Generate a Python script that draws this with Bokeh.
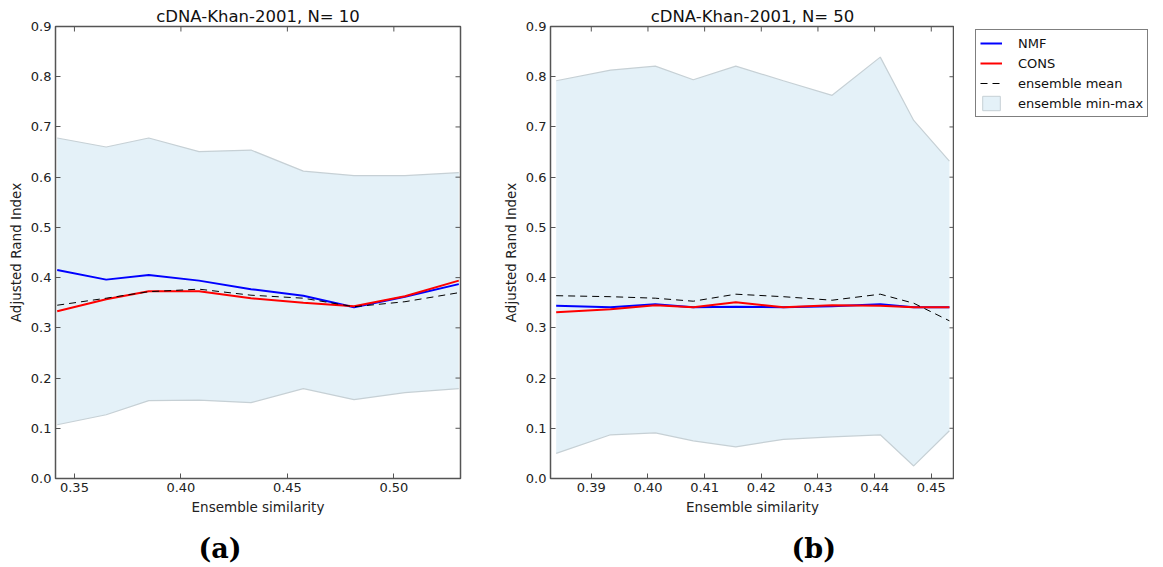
import math
from bokeh.plotting import figure
from bokeh.models import (Range1d, FixedTicker, NumeralTickFormatter,
                          Legend, LegendItem, Title)
from bokeh.layouts import row
from bokeh.embed import file_html
from bokeh.resources import INLINE

# ---------------- data ----------------
# panel (a): cDNA-Khan-2001, N = 10
sim_a = [0.3419, 0.3649, 0.3849, 0.4085, 0.4329, 0.4575, 0.4813, 0.5052, 0.5305]
nmf_a = [0.415, 0.396, 0.405, 0.394, 0.377, 0.364, 0.341, 0.362, 0.387]
cons_a = [0.333, 0.357, 0.373, 0.373, 0.359, 0.350, 0.343, 0.363, 0.394]
mean_a = [0.345, 0.359, 0.372, 0.377, 0.365, 0.359, 0.342, 0.352, 0.370]
max_a = [0.678, 0.660, 0.678, 0.651, 0.654, 0.612, 0.603, 0.603, 0.609]
min_a = [0.107, 0.127, 0.155, 0.156, 0.151, 0.179, 0.157, 0.171, 0.179]
xlim_a = (0.3411, 0.5313)
xticks_a = [0.35, 0.40, 0.45, 0.50]

# panel (b): cDNA-Khan-2001, N = 50
sim_b = [0.3838, 0.3934, 0.4013, 0.4080, 0.4155, 0.4239, 0.4325, 0.4410, 0.4469, 0.4532]
nmf_b = [0.344, 0.341, 0.347, 0.341, 0.342, 0.341, 0.343, 0.347, 0.341, 0.341]
cons_b = [0.331, 0.337, 0.345, 0.341, 0.351, 0.341, 0.345, 0.344, 0.341, 0.341]
mean_b = [0.364, 0.362, 0.359, 0.353, 0.367, 0.362, 0.355, 0.367, 0.349, 0.314]
max_b = [0.792, 0.813, 0.821, 0.794, 0.821, 0.792, 0.763, 0.839, 0.713, 0.632]
min_b = [0.050, 0.087, 0.091, 0.075, 0.063, 0.078, 0.083, 0.087, 0.025, 0.095]
xlim_b = (0.3828, 0.4541)
xticks_b = [0.39, 0.40, 0.41, 0.42, 0.43, 0.44, 0.45]

ylim = (0.0, 0.9)
yticks = [0.0, 0.1, 0.2, 0.3, 0.4, 0.5, 0.6, 0.7, 0.8, 0.9]

legend_labels = ["NMF", "CONS", "ensemble mean", "ensemble min-max"]

FONT = "DejaVu Sans"
FRAME = "#555555"
FILL = "#e4f1f8"
EDGE = "#c6d0d5"
NMF_COLOR = "#0000ff"
CONS_COLOR = "#ff0000"
DASH = "7 5"
TICK_LEN = 5
FRAME_H = 452
TOP = 26
TOTAL_H = 567
NAN = float("nan")


def style_axis(ax, fmt, ticks):
    ax.ticker = FixedTicker(ticks=ticks)
    ax.formatter = NumeralTickFormatter(format=fmt)
    ax.major_tick_in = TICK_LEN
    ax.major_tick_out = 0
    ax.minor_tick_line_color = None
    ax.axis_line_color = None
    ax.major_tick_line_color = FRAME
    ax.major_label_text_font = FONT
    ax.major_label_text_font_size = "13px"
    ax.major_label_text_color = "#222222"
    ax.major_label_standoff = 4
    ax.axis_label_text_font = FONT
    ax.axis_label_text_font_size = "13.5px"
    ax.axis_label_text_font_style = "normal"
    ax.axis_label_text_color = "#222222"
    ax.axis_label_standoff = 4


def make_panel(title, sim, nmf, cons, mean, lo, hi, xlim, xticks, tag, tag_offset,
               fw, border_right):
    p = figure(frame_width=fw, frame_height=FRAME_H,
               x_range=Range1d(*xlim), y_range=Range1d(*ylim),
               output_backend="svg", toolbar_location=None,
               min_border_left=55, min_border_right=border_right,
               min_border_top=TOP, min_border_bottom=TOTAL_H - FRAME_H - TOP,
               x_axis_label="Ensemble similarity", y_axis_label="Adjusted Rand Index")
    p.grid.visible = False
    p.outline_line_color = FRAME
    p.outline_line_width = 1.5
    p.background_fill_color = "white"
    p.border_fill_color = "white"

    p.title.text = title
    p.title.text_font = FONT
    p.title.text_font_size = "16.5px"
    p.title.text_font_style = "normal"
    p.title.text_color = "#111111"
    p.title.align = "center"
    p.title.standoff = 2

    style_axis(p.xaxis[0], "0.00", xticks)
    style_axis(p.yaxis[0], "0.0", yticks)

    p.varea(x=sim, y1=lo, y2=hi, fill_color=FILL, fill_alpha=1.0)
    p.line(sim, lo, line_color=EDGE, line_width=1.2)
    p.line(sim, hi, line_color=EDGE, line_width=1.2)
    p.line(sim, nmf, line_color=NMF_COLOR, line_width=2)
    p.line(sim, cons, line_color=CONS_COLOR, line_width=2)
    p.line(sim, mean, line_color="black", line_width=1, line_dash=DASH)

    # inward ticks on the top and right edges (matplotlib classic style)
    p.ray(x=xticks, y=[ylim[1]] * len(xticks), length=TICK_LEN, length_units="screen",
          angle=-math.pi / 2, line_color=FRAME, line_width=1)
    p.ray(x=[xlim[1]] * len(yticks), y=yticks, length=TICK_LEN, length_units="screen",
          angle=math.pi, line_color=FRAME, line_width=1)

    p.add_layout(Title(text=tag, align="left", offset=tag_offset,
                       text_font="DejaVu Serif", text_font_style="bold",
                       text_font_size="27px", text_color="black", standoff=27), "below")
    return p


p1 = make_panel("cDNA-Khan-2001, N= 10", sim_a, nmf_a, cons_a, mean_a, min_a, max_a,
                xlim_a, xticks_a, "(a)", 143, 405, 35)
p2 = make_panel("cDNA-Khan-2001, N= 50", sim_b, nmf_b, cons_b, mean_b, min_b, max_b,
                xlim_b, xticks_b, "(b)", 241, 404, 0)

# legend panel: a plain canvas that carries the shared legend (proxy glyphs, no data shown)
LEG_LEFT = 18
LEG_MARGIN = 3
LEG_W = 1163 - 495 - 459
pl = figure(frame_width=LEG_W - LEG_LEFT, frame_height=200,
            x_range=Range1d(0, 1), y_range=Range1d(0, 1),
            output_backend="svg", toolbar_location=None,
            x_axis_location=None, y_axis_location=None,
            min_border_left=LEG_LEFT, min_border_right=0,
            min_border_top=TOP, min_border_bottom=0)
pl.grid.visible = False
pl.outline_line_color = None
pl.background_fill_color = "white"
pl.border_fill_color = "white"
g_nmf = pl.line([NAN], [NAN], line_color=NMF_COLOR, line_width=2)
g_cons = pl.line([NAN], [NAN], line_color=CONS_COLOR, line_width=2)
g_mean = pl.line([NAN], [NAN], line_color="black", line_width=1, line_dash=DASH)
g_band = pl.patch([NAN], [NAN], fill_color=FILL, line_color=EDGE, line_width=1)
proxies = [g_nmf, g_cons, g_mean, g_band]
legend = Legend(items=[LegendItem(label=lab, renderers=[r]) for lab, r in zip(legend_labels, proxies)])
legend.location = "top_left"
legend.margin = LEG_MARGIN
legend.padding = 4
legend.spacing = 2
legend.glyph_width = 22
legend.glyph_height = 18
legend.label_height = 18
legend.label_standoff = 16
legend.label_text_font = FONT
legend.label_text_font_size = "13px"
legend.label_text_color = "#111111"
legend.border_line_color = "black"
legend.border_line_width = 1
legend.background_fill_color = "white"
pl.add_layout(legend, "center")

layout = row(p1, p2, pl)
open("out.html", "w").write(file_html(layout, INLINE))
